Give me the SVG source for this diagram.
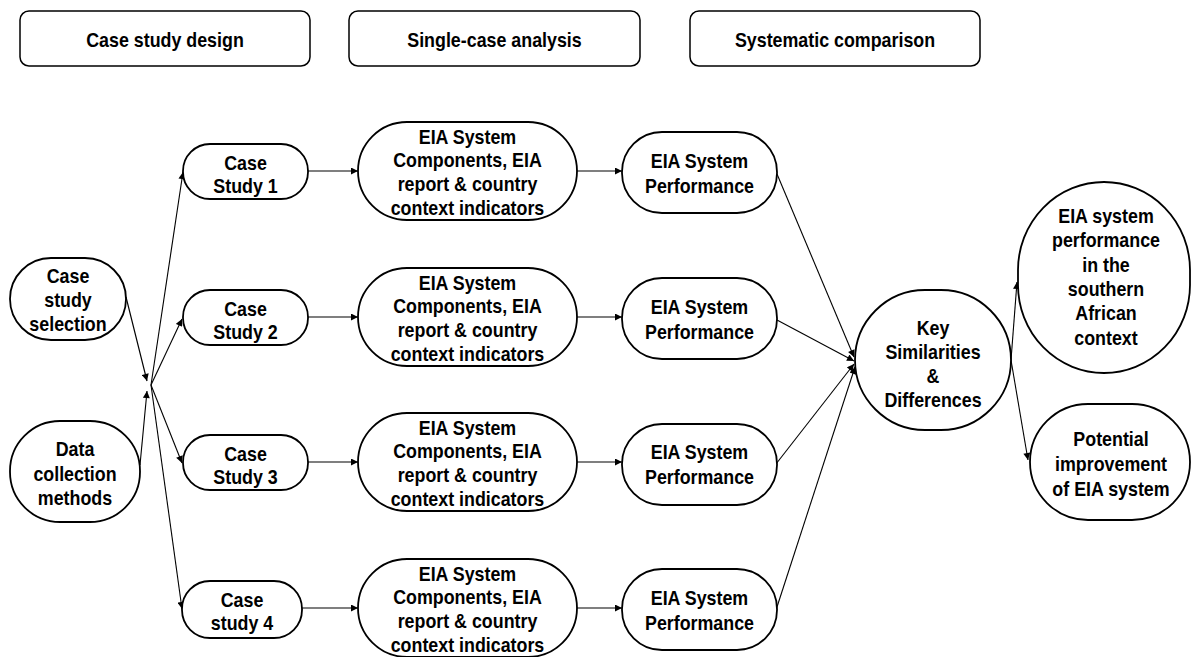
<svg xmlns="http://www.w3.org/2000/svg" width="1192" height="657" viewBox="0 0 1192 657">
  <style>
    .hdr { fill: #fff; stroke: #000; stroke-width: 1.5; }
    .node { fill: #fff; stroke: #000; stroke-width: 1.8; }
    .edge { fill: none; stroke: #000; stroke-width: 1.1; marker-end: url(#arr); }
    /* tall, narrow bold labels: positioned with translate, squeezed horizontally */
    text { font-family: "Liberation Sans", Arial, Helvetica, sans-serif; font-weight: bold; font-size: 21px; text-anchor: middle; fill: #000; }
  </style>
  <defs>
    <marker id="arr" viewBox="0 0 10 10" refX="10" refY="5" markerWidth="9" markerHeight="7" markerUnits="userSpaceOnUse" orient="auto">
      <path d="M0,0 L10,5 L0,10 z" fill="#000"/>
    </marker>
  </defs>
  <rect width="1192" height="657" fill="#fff"/>

  <!-- phase headers -->
  <g id="hdr-design">
    <rect class="hdr" x="20" y="11" width="290" height="55" rx="9"/>
    <text transform="translate(165 46.5) scale(.85 1)">Case study design</text>
  </g>
  <g id="hdr-single">
    <rect class="hdr" x="349" y="11" width="291" height="55" rx="9"/>
    <text transform="translate(494.5 46.5) scale(.85 1)">Single-case analysis</text>
  </g>
  <g id="hdr-compare">
    <rect class="hdr" x="690" y="11" width="290" height="55" rx="9"/>
    <text transform="translate(835 46.5) scale(.85 1)">Systematic comparison</text>
  </g>

  <!-- connectors -->
  <g id="connectors">
    <line class="edge" x1="126" y1="297" x2="147" y2="381"/>
    <line class="edge" x1="140" y1="465" x2="147" y2="391"/>
    <line class="edge" x1="151" y1="385" x2="183" y2="172"/>
    <line class="edge" x1="151" y1="385" x2="182" y2="319"/>
    <line class="edge" x1="151" y1="385" x2="182" y2="463"/>
    <line class="edge" x1="151" y1="385" x2="182" y2="609"/>

    <line class="edge" x1="308" y1="171" x2="358" y2="171"/>
    <line class="edge" x1="308" y1="317" x2="358" y2="317"/>
    <line class="edge" x1="308" y1="462" x2="358" y2="462"/>
    <line class="edge" x1="302" y1="608" x2="358" y2="608"/>

    <line class="edge" x1="577" y1="171" x2="622" y2="171"/>
    <line class="edge" x1="577" y1="317" x2="622" y2="317"/>
    <line class="edge" x1="577" y1="462" x2="622" y2="462"/>
    <line class="edge" x1="577" y1="608" x2="622" y2="608"/>

    <line class="edge" x1="777" y1="174" x2="854" y2="357"/>
    <line class="edge" x1="777" y1="320" x2="854" y2="361"/>
    <line class="edge" x1="776" y1="464" x2="854" y2="364"/>
    <line class="edge" x1="776" y1="610" x2="855" y2="367"/>

    <line class="edge" x1="1011" y1="360" x2="1017" y2="282"/>
    <line class="edge" x1="1011" y1="360" x2="1028" y2="460"/>
  </g>

  <!-- inputs -->
  <g id="case-selection">
    <rect class="node" x="10" y="258" width="116" height="82" rx="41"/>
    <text transform="translate(68 282.5) scale(.85 1)">Case</text>
    <text transform="translate(68 306.5) scale(.85 1)">study</text>
    <text transform="translate(68 330.5) scale(.85 1)">selection</text>
  </g>
  <g id="data-collection">
    <rect class="node" x="10" y="421" width="130" height="101" rx="50"/>
    <text transform="translate(75 455.5) scale(.85 1)">Data</text>
    <text transform="translate(75 480.5) scale(.85 1)">collection</text>
    <text transform="translate(75 504.5) scale(.85 1)">methods</text>
  </g>

  <!-- case studies -->
  <g id="case-1">
    <rect class="node" x="183" y="144" width="125" height="55" rx="27"/>
    <text transform="translate(245.5 170) scale(.85 1)">Case</text>
    <text transform="translate(245.5 192.5) scale(.85 1)">Study 1</text>
  </g>
  <g id="case-2">
    <rect class="node" x="183" y="290" width="125" height="55" rx="27"/>
    <text transform="translate(245.5 316) scale(.85 1)">Case</text>
    <text transform="translate(245.5 338.5) scale(.85 1)">Study 2</text>
  </g>
  <g id="case-3">
    <rect class="node" x="183" y="435" width="125" height="55" rx="27"/>
    <text transform="translate(245.5 461) scale(.85 1)">Case</text>
    <text transform="translate(245.5 483.5) scale(.85 1)">Study 3</text>
  </g>
  <g id="case-4">
    <rect class="node" x="182" y="581" width="120" height="57" rx="28"/>
    <text transform="translate(242 607) scale(.85 1)">Case</text>
    <text transform="translate(242 629.5) scale(.85 1)">study 4</text>
  </g>

  <!-- indicator sets -->
  <g id="indicators-1">
    <rect class="node" x="358" y="122" width="219" height="98" rx="49"/>
    <text transform="translate(467.5 143.5) scale(.85 1)">EIA System</text>
    <text transform="translate(467.5 167) scale(.85 1)">Components, EIA</text>
    <text transform="translate(467.5 191) scale(.85 1)">report &amp; country</text>
    <text transform="translate(467.5 215) scale(.85 1)">context indicators</text>
  </g>
  <g id="indicators-2">
    <rect class="node" x="358" y="268" width="219" height="98" rx="49"/>
    <text transform="translate(467.5 289.5) scale(.85 1)">EIA System</text>
    <text transform="translate(467.5 313) scale(.85 1)">Components, EIA</text>
    <text transform="translate(467.5 337) scale(.85 1)">report &amp; country</text>
    <text transform="translate(467.5 361) scale(.85 1)">context indicators</text>
  </g>
  <g id="indicators-3">
    <rect class="node" x="358" y="413" width="219" height="98" rx="49"/>
    <text transform="translate(467.5 434.5) scale(.85 1)">EIA System</text>
    <text transform="translate(467.5 458) scale(.85 1)">Components, EIA</text>
    <text transform="translate(467.5 482) scale(.85 1)">report &amp; country</text>
    <text transform="translate(467.5 506) scale(.85 1)">context indicators</text>
  </g>
  <g id="indicators-4">
    <rect class="node" x="358" y="559" width="219" height="98" rx="49"/>
    <text transform="translate(467.5 580.5) scale(.85 1)">EIA System</text>
    <text transform="translate(467.5 604) scale(.85 1)">Components, EIA</text>
    <text transform="translate(467.5 628) scale(.85 1)">report &amp; country</text>
    <text transform="translate(467.5 652) scale(.85 1)">context indicators</text>
  </g>

  <!-- performance -->
  <g id="performance-1">
    <rect class="node" x="622" y="132" width="155" height="81" rx="40"/>
    <text transform="translate(699.5 167.5) scale(.85 1)">EIA System</text>
    <text transform="translate(699.5 192.5) scale(.85 1)">Performance</text>
  </g>
  <g id="performance-2">
    <rect class="node" x="622" y="278" width="155" height="81" rx="40"/>
    <text transform="translate(699.5 313.5) scale(.85 1)">EIA System</text>
    <text transform="translate(699.5 338.5) scale(.85 1)">Performance</text>
  </g>
  <g id="performance-3">
    <rect class="node" x="622" y="424" width="155" height="81" rx="40"/>
    <text transform="translate(699.5 459) scale(.85 1)">EIA System</text>
    <text transform="translate(699.5 484) scale(.85 1)">Performance</text>
  </g>
  <g id="performance-4">
    <rect class="node" x="622" y="569" width="155" height="81" rx="40"/>
    <text transform="translate(699.5 604.5) scale(.85 1)">EIA System</text>
    <text transform="translate(699.5 629.5) scale(.85 1)">Performance</text>
  </g>

  <!-- comparison -->
  <g id="key-similarities">
    <rect class="node" x="855" y="290" width="156" height="140" rx="70"/>
    <text transform="translate(933 334.5) scale(.85 1)">Key</text>
    <text transform="translate(933 358.5) scale(.85 1)">Similarities</text>
    <text transform="translate(933 382.5) scale(.85 1)">&amp;</text>
    <text transform="translate(933 407) scale(.85 1)">Differences</text>
  </g>
  <g id="southern-context">
    <rect class="node" x="1018" y="182" width="172" height="191" rx="86" ry="88"/>
    <text transform="translate(1106 222.5) scale(.85 1)">EIA system</text>
    <text transform="translate(1106 247) scale(.85 1)">performance</text>
    <text transform="translate(1106 271.5) scale(.85 1)">in the</text>
    <text transform="translate(1106 295.5) scale(.85 1)">southern</text>
    <text transform="translate(1106 320) scale(.85 1)">African</text>
    <text transform="translate(1106 345) scale(.85 1)">context</text>
  </g>
  <g id="improvement">
    <rect class="node" x="1030" y="404" width="160" height="116" rx="58"/>
    <text transform="translate(1111 445.5) scale(.85 1)">Potential</text>
    <text transform="translate(1111 470.5) scale(.85 1)">improvement</text>
    <text transform="translate(1111 495.5) scale(.85 1)">of EIA system</text>
  </g>
</svg>
